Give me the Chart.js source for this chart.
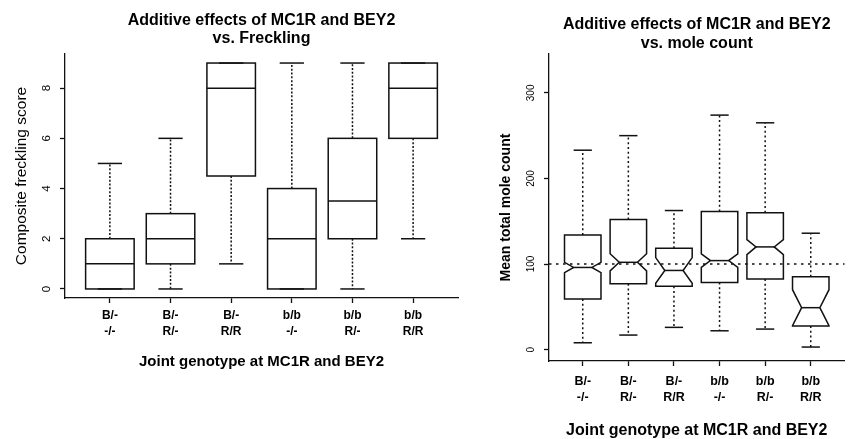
<!DOCTYPE html>
<html>
<head>
<meta charset="utf-8">
<script src="https://cdn.jsdelivr.net/npm/chart.js@4.4.0/dist/chart.umd.min.js"></script>
<style>
  html, body { margin: 0; padding: 0; background: #fff; }
  body { width: 850px; height: 439px; position: relative; overflow: hidden; }
  canvas { position: absolute; top: 0; }
  #freckles { left: 0; }
  #moles { left: 480px; }
</style>
</head>
<body>
<canvas id="freckles" width="480" height="439"></canvas>
<canvas id="moles" width="370" height="439"></canvas>
<script>
// joint genotype categories (two-line tick labels)
const genotypes = [['B/-', '-/-'], ['B/-', 'R/-'], ['B/-', 'R/R'], ['b/b', '-/-'], ['b/b', 'R/-'], ['b/b', 'R/R']];

// composite freckling score, five-number summaries
const freckLow = [0, 0, 1, 0, 0, 2];
const freckQ1 = [0, 1, 4.5, 0, 2, 6];
const freckMed = [1, 2, 8, 2, 3.5, 8];
const freckQ3 = [2, 3, 9, 4, 6, 9];
const freckHigh = [5, 6, 9, 9, 9, 9];
const freckTicks = [0, 2, 4, 6, 8];

// mean total mole count
const moleLow = [8, 17, 26, 22, 24, 3];
const moleQ1 = [59, 77, 74, 78.5, 82.5, 27.5];
const moleMed = [96, 102, 92.5, 104, 120, 49];
const moleQ3 = [134, 152, 118.5, 161.5, 160, 85];
const moleHigh = [233, 250, 162.5, 274, 265, 136];
const moleNotchLo = [90, 92, 77.5, 96, 111, 28];
const moleNotchHi = [102, 112, 107.5, 112, 128.5, 70];
const moleTicks = [0, 100, 200, 300];
const moleRef = 100;

const FONT = "'Liberation Sans', Arial, Helvetica, sans-serif";
Chart.defaults.font.family = FONT;
Chart.defaults.color = '#000';

const INK = '#111';

function boxPlugin(s) {
    return {
        id: 'boxes',
        afterDatasetsDraw(chart) {
            const ctx = chart.ctx;
            const xs = chart.scales.x;
            const ys = chart.scales.y;
            const area = chart.chartArea;
            ctx.save();
            ctx.strokeStyle = INK;
            ctx.lineWidth = 1.5;

            const line = (x1, y1, x2, y2) => {
                ctx.beginPath();
                ctx.moveTo(x1, y1);
                ctx.lineTo(x2, y2);
                ctx.stroke();
            };

            if (s.ref !== undefined) {
                ctx.lineWidth = 1.4;
                ctx.setLineDash([2.5, 4.5]);
                const ry = ys.getPixelForValue(s.ref);
                line(area.left, ry, area.right, ry);
                ctx.setLineDash([]);
                ctx.lineWidth = 1.5;
            }

            s.med.forEach((m, i) => {
                const v = i + 1;
                const cx = xs.getPixelForValue(v);
                const left = xs.getPixelForValue(v - 0.4);
                const right = xs.getPixelForValue(v + 0.4);
                const capL = xs.getPixelForValue(v - 0.2);
                const capR = xs.getPixelForValue(v + 0.2);
                const yLo = ys.getPixelForValue(s.low[i]);
                const yQ1 = ys.getPixelForValue(s.q1[i]);
                const yMed = ys.getPixelForValue(m);
                const yQ3 = ys.getPixelForValue(s.q3[i]);
                const yHi = ys.getPixelForValue(s.high[i]);

                // whiskers
                ctx.setLineDash(s.dash);
                if (yHi < yQ3) line(cx, yQ3, cx, yHi);
                if (yLo > yQ1) line(cx, yQ1, cx, yLo);
                ctx.setLineDash([]);
                line(capL, yHi, capR, yHi);
                line(capL, yLo, capR, yLo);

                if (s.notchLo) {
                    const nL = xs.getPixelForValue(v - 0.2);
                    const nR = xs.getPixelForValue(v + 0.2);
                    const yNHi = ys.getPixelForValue(s.notchHi[i]);
                    const yNLo = ys.getPixelForValue(s.notchLo[i]);
                    ctx.beginPath();
                    ctx.moveTo(left, yQ1);
                    ctx.lineTo(left, yNLo);
                    ctx.lineTo(nL, yMed);
                    ctx.lineTo(left, yNHi);
                    ctx.lineTo(left, yQ3);
                    ctx.lineTo(right, yQ3);
                    ctx.lineTo(right, yNHi);
                    ctx.lineTo(nR, yMed);
                    ctx.lineTo(right, yNLo);
                    ctx.lineTo(right, yQ1);
                    ctx.closePath();
                    ctx.stroke();
                    line(nL, yMed, nR, yMed);
                } else {
                    ctx.strokeRect(left, yQ3, right - left, yQ1 - yQ3);
                    line(left, yMed, right, yMed);
                }
            });
            ctx.restore();
        }
    };
}

function makeChart(el, cfg) {
    const medPoints = cfg.stats.med.map((m, i) => ({x: i + 1, y: m}));
    return new Chart(el, {
        type: 'scatter',
        data: {
            datasets: [{data: medPoints, pointRadius: 0, showLine: false}]
        },
        options: {
            responsive: false,
            animation: false,
            events: [],
            layout: {padding: cfg.padding},
            plugins: {
                legend: {display: false},
                tooltip: {enabled: false},
                title: {
                    display: true,
                    fullSize: false,
                    text: cfg.title,
                    color: '#000',
                    font: {size: 16, weight: 'bold', lineHeight: cfg.titleLine},
                    padding: cfg.titlePad
                }
            },
            scales: {
                x: {
                    type: 'linear',
                    min: 0.26,
                    max: 6.74,
                    afterBuildTicks: (sc) => { sc.ticks = genotypes.map((g, i) => ({value: i + 1})); },
                    afterFit: (sc) => { sc.height = cfg.xHeight; },
                    ticks: {
                        autoSkip: false,
                        maxRotation: 0,
                        minRotation: 0,
                        padding: cfg.xTickPad,
                        color: '#000',
                        font: {size: cfg.xTickSize, weight: 'bold', lineHeight: cfg.xTickLine},
                        callback: (val) => genotypes[Math.round(val) - 1]
                    },
                    grid: {drawOnChartArea: false, drawTicks: true, tickLength: 5, color: INK, tickWidth: 1.3},
                    border: {display: true, color: INK, width: 1.3},
                    title: {
                        display: true,
                        text: 'Joint genotype at MC1R and BEY2',
                        color: '#000',
                        font: {size: cfg.xTitleSize, weight: 'bold', lineHeight: 1},
                        padding: {top: 0, bottom: cfg.xTitlePad}
                    }
                },
                y: {
                    type: 'linear',
                    min: cfg.yMin,
                    max: cfg.yMax,
                    afterBuildTicks: (sc) => { sc.ticks = cfg.yTicks.map(v => ({value: v})); },
                    afterFit: (sc) => { sc.width = cfg.yWidth; },
                    ticks: {
                        minRotation: 90,
                        maxRotation: 90,
                        crossAlign: 'center',
                        padding: cfg.yTickPad,
                        color: '#000',
                        font: {size: cfg.yTickSize}
                    },
                    grid: {drawOnChartArea: false, drawTicks: true, tickLength: 5, color: INK, tickWidth: 1.3},
                    border: {display: true, color: INK, width: 1.3},
                    title: {
                        display: true,
                        text: cfg.yTitle,
                        color: '#000',
                        font: {size: cfg.yTitleSize, weight: cfg.yTitleWeight, lineHeight: 1.2},
                        padding: {top: cfg.yTitlePad, bottom: 0}
                    }
                }
            }
        },
        plugins: [boxPlugin(cfg.stats)]
    });
}

makeChart(document.getElementById('freckles'), {
    title: ['Additive effects of MC1R and BEY2', 'vs. Freckling'],
    titleLine: 1.125,
    titlePad: {top: 12, bottom: 6},
    padding: {left: 0, right: 22, top: 0, bottom: 0},
    xHeight: 141,
    xTickPad: 5,
    xTickSize: 12,
    xTickLine: 1.31,
    xTitleSize: 15,
    xTitlePad: 70,
    yMin: -0.36,
    yMax: 9.36,
    yTicks: freckTicks,
    yWidth: 65,
    yTickPad: 10,
    yTickSize: 11.5,
    yTitle: 'Composite freckling score',
    yTitleSize: 15.5,
    yTitleWeight: 'normal',
    yTitlePad: 12.5,
    stats: {low: freckLow, q1: freckQ1, med: freckMed, q3: freckQ3, high: freckHigh, dash: [2, 1.8]}
});

makeChart(document.getElementById('moles'), {
    title: ['Additive effects of MC1R and BEY2', 'vs. mole count'],
    titleLine: 1.19,
    titlePad: {top: 15, bottom: 1},
    padding: {left: 0, right: 5.5, top: 0, bottom: 0},
    xHeight: 78,
    xTickPad: 8,
    xTickSize: 12.5,
    xTickLine: 1.28,
    xTitleSize: 16,
    xTitlePad: 0,
    yMin: -13.3,
    yMax: 345.3,
    yTicks: moleTicks,
    yWidth: 69,
    yTickPad: 4,
    yTickSize: 10,
    yTitle: 'Mean total mole count',
    yTitleSize: 14,
    yTitleWeight: 'bold',
    yTitlePad: 17.5,
    stats: {low: moleLow, q1: moleQ1, med: moleMed, q3: moleQ3, high: moleHigh,
        notchLo: moleNotchLo, notchHi: moleNotchHi, ref: moleRef, dash: [2, 2.7]}
});
</script>
</body>
</html>
